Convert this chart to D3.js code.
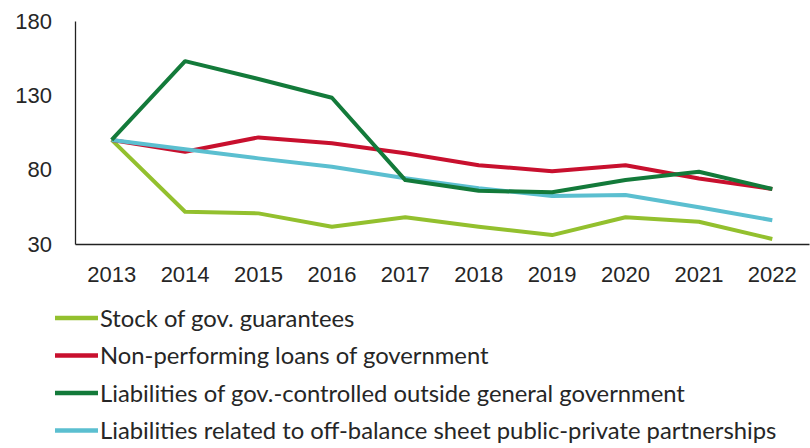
<!DOCTYPE html>
<html><head><meta charset="utf-8">
<script src="https://cdn.jsdelivr.net/npm/d3@7"></script>
<style>
body{margin:0;background:#fff}
.tick text{font-family:'Liberation Sans',Arial,sans-serif;font-size:22px;fill:#262626}
.leg{font-family:'Lato',sans-serif;font-size:23.8px;fill:#262626}
</style>
</head><body>
<svg id="c" width="810" height="448"></svg>
<script>
const years = ["2013","2014","2015","2016","2017","2018","2019","2020","2021","2022"];
const stockGuarantees = [100, 51.7, 50.6, 41.6, 48, 41.6, 36, 48, 45, 33.4];
const nonPerformingLoans = [100, 92, 101.7, 97.7, 91, 83, 79, 83, 74, 67];
const liabControlled = [100, 153, 141, 128.4, 73, 65.8, 64.8, 73, 78.6, 67];
const liabPPP = [100, 93.7, 87.6, 82, 74.2, 67.5, 62.3, 63, 54.7, 46];
const yTicks = [30, 80, 130, 180];
const seriesNames = ["Stock of gov. guarantees","Non-performing loans of government","Liabilities of gov.-controlled outside general government","Liabilities related to off-balance sheet public-private partnerships"];
const seriesColors = ["#93c02e","#c8102e","#137a3a","#5bbfd0"];
const seriesData = [stockGuarantees, nonPerformingLoans, liabControlled, liabPPP];

const svg = d3.select("#c");
const x = d3.scaleBand().domain(years).range([75, 809]);
const y = d3.scaleLinear().domain([30, 180]).range([244, 21]);

const yAxis = svg.append("g").attr("transform","translate(75,0)")
  .call(d3.axisLeft(y).tickValues(yTicks).tickSize(0).tickPadding(23));
yAxis.select(".domain").attr("stroke","#222").attr("stroke-width",1.3);
yAxis.attr("font-family",null).attr("font-size",null);

const xAxis = svg.append("g").attr("transform","translate(0,244)")
  .call(d3.axisBottom(x).tickSize(0).tickPadding(22));
xAxis.select(".domain").attr("stroke","#222").attr("stroke-width",1.3);
xAxis.attr("font-family",null).attr("font-size",null);

const line = d3.line().x((d,i)=>x(years[i])+x.bandwidth()/2).y(d=>y(d));
const order = [0,1,3,2];
order.forEach(k=>{
  svg.append("path").datum(seriesData[k]).attr("d",line)
    .attr("fill","none").attr("stroke",seriesColors[k]).attr("stroke-width",4)
    .attr("stroke-linejoin","round");
});

const lg = svg.append("g");
seriesNames.forEach((n,i)=>{
  const yy = 318 + i*37.5;
  lg.append("line").attr("x1",55).attr("x2",98).attr("y1",yy).attr("y2",yy)
    .attr("stroke",seriesColors[i]).attr("stroke-width",4.5);
  lg.append("text").attr("class","leg").attr("x",100).attr("y",yy).attr("dy","0.36em").text(n);
});
</script>
</body></html>
